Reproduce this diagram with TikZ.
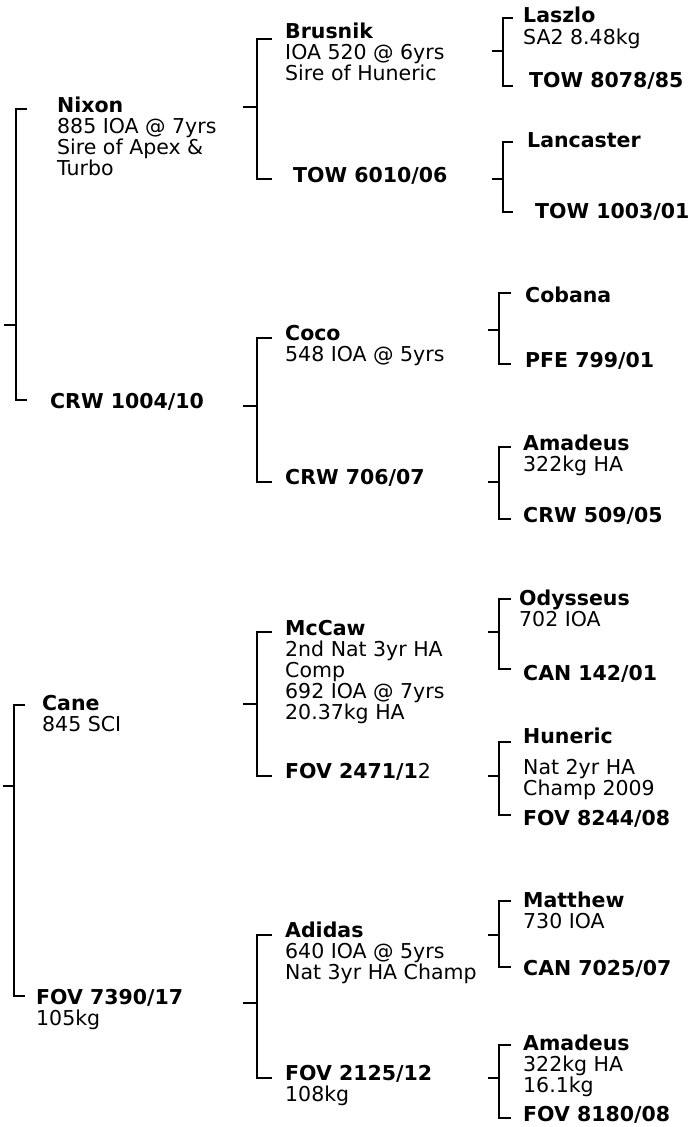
\documentclass[tikz,border=0pt]{standalone}
\usepackage{fontspec}
\setmainfont{DejaVu Sans}
\newcommand\pedlines[1]{\vtop{\baselineskip=21pt\lineskiplimit=-50pt\lineskip=0pt #1}}
\newcommand\pl[1]{\hbox{#1}}
% #1 x of vertical, #2 top y, #3 bottom y, #4 mid y, #5 stub start x, #6 tick end x
\newcommand\pedbracket[6]{%
  \draw[brk] (#6,#2) -- (#1,#2) -- (#1,#3) -- (#6,#3);
  \draw[brk] (#5,#4) -- (#1,#4);}
\begin{document}
\begin{tikzpicture}[x=1pt,y=-1pt,
  lbl/.style={anchor=base west, inner sep=0pt, font=\fontsize{20.5}{21}\selectfont},
  brk/.style={line width=2pt, line join=miter}]
\useasboundingbox[fill=white] (0,0) rectangle (691,1127);

% ---------- level 1 ----------
\pedbracket{16}{109}{400}{325}{4}{27}
\pedbracket{14}{705}{996}{786}{3}{25}
\node[lbl] (nixon) at (57,112) {\pedlines{\pl{\bfseries Nixon}\pl{885 IOA @ 7yrs}\pl{Sire of Apex \&}\pl{Turbo}}};
\node[lbl] (crw1004) at (50,408) {\bfseries CRW 1004/10};
\node[lbl] (cane) at (42,710) {\pedlines{\pl{\bfseries Cane}\pl{845 SCI}}};
\node[lbl] (fov7390) at (36,1004) {\pedlines{\pl{\bfseries FOV 7390/17}\pl{105kg}}};

% ---------- level 2 ----------
\pedbracket{257}{39}{179}{107}{243}{272}
\pedbracket{257}{338}{482}{406}{243}{272}
\pedbracket{257}{632}{776}{704}{243}{272}
\pedbracket{257}{935}{1078}{1003}{243}{272}
\node[lbl] (brusnik) at (285,38) {\pedlines{\pl{\bfseries Brusnik}\pl{IOA 520 @ 6yrs}\pl{Sire of Huneric}}};
\node[lbl] (tow6010) at (293,182) {\bfseries TOW 6010/06};
\node[lbl] (coco) at (285,340) {\pedlines{\pl{\bfseries Coco}\pl{548 IOA @ 5yrs}}};
\node[lbl] (crw706) at (285,484) {\bfseries CRW 706/07};
\node[lbl] (mccaw) at (285,635) {\pedlines{\pl{\bfseries McCaw}\pl{2nd Nat 3yr HA}\pl{Comp}\pl{692 IOA @ 7yrs}\pl{20.37kg HA}}};
\node[lbl] (fov2471) at (285,778) {{\bfseries FOV 2471/1}2};
\node[lbl] (adidas) at (285,937) {\pedlines{\pl{\bfseries Adidas}\pl{640 IOA @ 5yrs}\pl{Nat 3yr HA Champ}}};
\node[lbl] (fov2125) at (285,1080) {\pedlines{\pl{\bfseries FOV 2125/12}\pl{108kg}}};

% ---------- level 3 ----------
\pedbracket{503}{18}{86}{51}{492}{513}
\pedbracket{503}{142}{212}{179}{492}{513}
\pedbracket{499}{293}{364}{330}{488}{511}
\pedbracket{499}{447}{519}{482}{488}{511}
\pedbracket{499}{599}{669}{632}{488}{511}
\pedbracket{499}{742}{815}{776}{488}{511}
\pedbracket{499}{901}{967}{935}{488}{511}
\pedbracket{499}{1045}{1118}{1078}{488}{511}
\node[lbl] (laszlo) at (523,23) {\pedlines{\pl{\bfseries Laszlo}\pl{SA2 8.48kg}}};
\node[lbl] (tow8078) at (529,87) {\bfseries TOW 8078/85};
\node[lbl] (lancaster) at (527,147) {\bfseries Lancaster};
\node[lbl] (tow1003) at (535,218) {\bfseries TOW 1003/01};
\node[lbl] (cobana) at (525,302) {\bfseries Cobana};
\node[lbl] (pfe799) at (525,367) {\bfseries PFE 799/01};
\node[lbl] (amadeusA) at (523,450) {\pedlines{\pl{\bfseries Amadeus}\pl{322kg HA}}};
\node[lbl] (crw509) at (523,522) {\bfseries CRW 509/05};
\node[lbl] (odysseus) at (519,605) {\pedlines{\pl{\bfseries Odysseus}\pl{702 IOA}}};
\node[lbl] (can142) at (523,680) {\bfseries CAN 142/01};
\node[lbl] (huneric) at (523,743) {\pedlines{\pl{\bfseries Huneric}\vskip10pt\pl{Nat 2yr HA}\pl{Champ 2009}}};
\node[lbl] (fov8244) at (523,825) {\bfseries FOV 8244/08};
\node[lbl] (matthew) at (523,907) {\pedlines{\pl{\bfseries Matthew}\pl{730 IOA}}};
\node[lbl] (can7025) at (523,975) {\bfseries CAN 7025/07};
\node[lbl] (amadeusB) at (523,1050) {\pedlines{\pl{\bfseries Amadeus}\pl{322kg HA}\pl{16.1kg}}};
\node[lbl] (fov8180) at (523,1121) {\bfseries FOV 8180/08};
\end{tikzpicture}
\end{document}
